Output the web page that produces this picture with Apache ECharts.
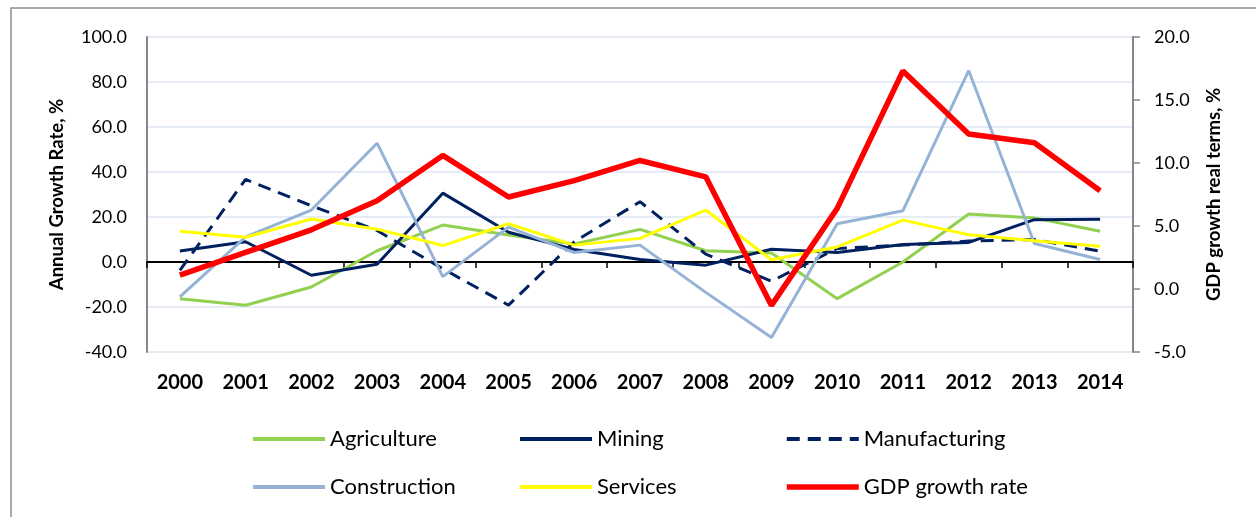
<!DOCTYPE html>
<html lang="en">
  <head>
    <meta charset="UTF-8" />
    <title>Growth rates by sector</title>
    <script src="https://cdn.jsdelivr.net/npm/echarts@6/dist/echarts.min.js"></script>
    <style>
      html, body { margin: 0; padding: 0; background: #fff; }
      #main { width: 1256px; height: 517px; }
    </style>
  </head>
  <body>
    <div id="main"></div>

    <script>
      const years = ['2000', '2001', '2002', '2003', '2004', '2005', '2006', '2007',
        '2008', '2009', '2010', '2011', '2012', '2013', '2014'];

      // left axis, annual growth rate %
      const agriculture = [-16.3, -19.2, -11.1, 5.0, 16.4, 12.0, 8.0, 14.5, 5.0, 4.0, -16.3, 0.0, 21.3, 19.6, 13.7];
      const mining = [4.9, 9.0, -5.9, -1.0, 30.6, 13.2, 5.6, 1.1, -1.4, 5.7, 4.2, 7.8, 8.7, 18.8, 19.0];
      const manufacturing = [-3.7, 36.7, 25.0, 14.0, -3.0, -19.2, 9.0, 26.8, 3.5, -8.5, 6.0, 7.5, 9.3, 10.0, 4.8];
      const construction = [-15.5, 11.2, 23.1, 52.8, -6.5, 15.5, 4.2, 7.5, -13.5, -33.6, 17.0, 22.8, 85.1, 8.2, 1.1];
      const services = [13.7, 11.0, 19.1, 14.6, 7.3, 17.0, 7.5, 10.5, 23.1, 1.0, 6.7, 18.6, 12.1, 9.4, 7.0];
      // right axis, GDP growth in real terms %
      const gdpGrowth = [1.1, 2.9, 4.7, 7.0, 10.6, 7.3, 8.6, 10.2, 8.9, -1.3, 6.4, 17.3, 12.3, 11.6, 7.8];

      const leftTicks = { min: -40, max: 100, interval: 20 };
      const rightTicks = { min: -5, max: 20, interval: 5 };

      const legendColumns = [
        ['Agriculture', 'Construction'],
        ['Mining', 'Services'],
        ['Manufacturing', 'GDP growth rate'],
      ];
      const legendLefts = [246, 513, 779];

      const font = 'Lato, "Open Sans", sans-serif';

      function lineSeries(name, data, color, width, extra) {
        return Object.assign({
          name: name,
          type: 'line',
          data: data,
          showSymbol: false,
          symbol: 'none',
          lineStyle: { color: color, width: width },
          itemStyle: { color: color },
          emphasis: { disabled: true },
        }, extra || {});
      }

      const options = {
        animation: false,
        textStyle: { fontFamily: font },
        graphic: [
          {
            type: 'rect',
            silent: true,
            z: -10,
            shape: { x: 11, y: 8, width: 1300, height: 600 },
            style: { fill: 'none', stroke: '#8c8c8c', lineWidth: 1.5 },
          },
        ],
        grid: { left: 147, right: 123, top: 37, bottom: 165, containLabel: false },
        legend: legendColumns.map((col, i) => ({
          data: col.map((name) => ({
            name: name,
            lineStyle: { width: name === 'GDP growth rate' ? 5.5 : 4 },
          })),
          orient: 'vertical',
          left: legendLefts[i],
          top: 423,
          itemWidth: 72,
          itemHeight: 14,
          itemGap: 26,
          selectedMode: false,
          itemStyle: { opacity: 0 },
          textStyle: { fontSize: 22, color: '#000', fontFamily: font },
        })),
        xAxis: [
          {
            type: 'category',
            data: years,
            boundaryGap: true,
            axisLine: { onZero: true, onZeroAxisIndex: 0, lineStyle: { color: '#000', width: 2 } },
            axisTick: { show: true, inside: false, length: 6, lineStyle: { color: '#000', width: 1.5 } },
            axisLabel: { show: false },
            splitLine: { show: false },
          },
          {
            type: 'category',
            data: years,
            position: 'bottom',
            boundaryGap: true,
            axisLine: { show: false, onZero: false },
            axisTick: { show: false },
            axisLabel: { fontSize: 20, fontWeight: 'bold', color: '#000', margin: 21 },
          },
        ],
        yAxis: [
          {
            type: 'value',
            min: leftTicks.min,
            max: leftTicks.max,
            interval: leftTicks.interval,
            name: 'Annual Growth Rate, %',
            nameLocation: 'middle',
            nameGap: 80,
            nameTextStyle: { fontSize: 18.5, fontWeight: 'bold', color: '#000' },
            axisLine: { show: true, lineStyle: { color: '#868686', width: 2 } },
            axisTick: { show: false },
            axisLabel: { fontSize: 18, color: '#000', margin: 20, formatter: (v) => v.toFixed(1) },
            splitLine: { show: true, lineStyle: { color: '#dce6f2', width: 1.5 } },
          },
          {
            type: 'value',
            position: 'right',
            min: rightTicks.min,
            max: rightTicks.max,
            interval: rightTicks.interval,
            name: 'GDP growth real terms, %',
            nameLocation: 'middle',
            nameGap: 72,
            nameTextStyle: { fontSize: 18.5, fontWeight: 'bold', color: '#000' },
            axisLine: { show: true, lineStyle: { color: '#868686', width: 2 } },
            axisTick: { show: true, length: 7, lineStyle: { color: '#868686', width: 1.5 } },
            axisLabel: { fontSize: 18, color: '#000', margin: 21, formatter: (v) => v.toFixed(1) },
            splitLine: { show: false },
          },
        ],
        series: [
          lineSeries('Agriculture', agriculture, '#92d050', 3),
          lineSeries('Mining', mining, '#002060', 3),
          lineSeries('Manufacturing', manufacturing, '#002060', 3, {
            lineStyle: { color: '#002060', width: 3, type: [13, 8] },
          }),
          lineSeries('Construction', construction, '#95b3d7', 3),
          lineSeries('Services', services, '#ffff00', 3),
          lineSeries('GDP growth rate', gdpGrowth, '#ff0000', 5.5, { yAxisIndex: 1 }),
        ],
      };

      var myChart = echarts.init(document.querySelector('#main'));
      myChart.setOption(options);

      window.onresize = function () {
        myChart.resize();
      };
    </script>
  </body>
</html>
